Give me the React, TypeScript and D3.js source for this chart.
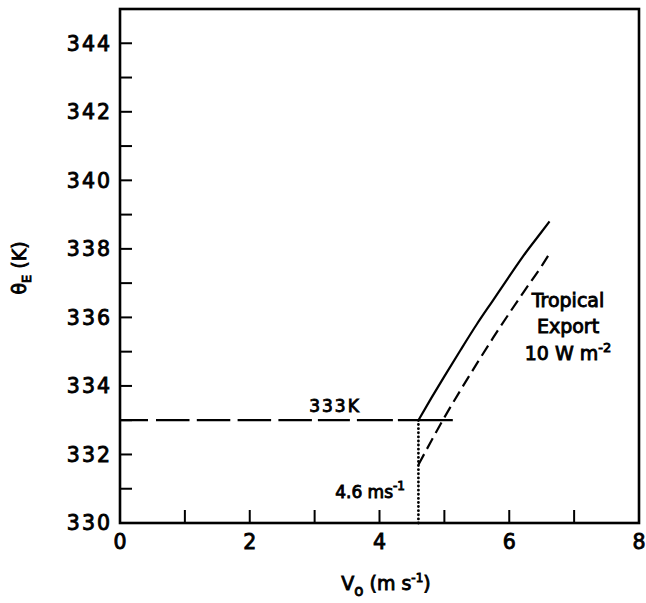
import React from "react";
import * as d3 from "d3";

// ---- data ----
const xMajorTicks = [0, 2, 4, 6, 8];
const xMinorTicks = [1, 2, 3, 4, 5, 6, 7];
const yMajorTicks = [330, 332, 334, 336, 338, 340, 342, 344];
const yMinorTicks = [331, 332, 333, 334, 335, 336, 337, 338, 339, 340, 341, 342, 343, 344];

const solidV = [4.6, 4.8, 5.0, 5.25, 5.5, 5.75, 6.0, 6.25, 6.5, 6.62];
const solidTheta = [333.0, 333.65, 334.28, 335.05, 335.8, 336.5, 337.2, 337.88, 338.5, 338.8];

const dashedV = [4.6, 4.8, 5.0, 5.25, 5.5, 5.75, 6.0, 6.25, 6.5, 6.6];
const dashedTheta = [331.7, 332.4, 333.08, 333.88, 334.65, 335.4, 336.12, 336.82, 337.5, 337.8];

const refTheta = 333;
const refVRange = [0, 5.13];
const criticalV = 4.6;

const W = 646;
const H = 603;
const FONT = "'DejaVu Sans', sans-serif";

const textStyle = { stroke: "#000", strokeWidth: 0.9 } as const;

export default function App() {
  const left = 120, right = 639, top = 9, bottom = 523;
  const x = d3.scaleLinear().domain([0, 8]).range([left, right]);
  const y = d3.scaleLinear().domain([330, 345]).range([bottom, top]);

  const line = d3
    .line<[number, number]>()
    .x((d) => x(d[0]))
    .y((d) => y(d[1]))
    .curve(d3.curveMonotoneX);

  const solidPts = solidV.map((v, i) => [v, solidTheta[i]] as [number, number]);
  const dashedPts = dashedV.map((v, i) => [v, dashedTheta[i]] as [number, number]);

  return (
    <svg
      width={W}
      height={H}
      style={{ position: "absolute", left: 0, top: 0, background: "#fff" }}
      fontFamily={FONT}
    >
      <rect x={0} y={0} width={W} height={H} fill="#fff" />
      {/* frame */}
      <rect
        x={left}
        y={top}
        width={right - left}
        height={bottom - top}
        fill="none"
        stroke="#000"
        strokeWidth={2.6}
      />
      {/* y ticks */}
      {yMinorTicks.map((t) => (
        <line key={"yt" + t} x1={left} x2={left + 12} y1={y(t)} y2={y(t)} stroke="#000" strokeWidth={2} />
      ))}
      {yMajorTicks.map((t) => (
        <text
          key={"yl" + t}
          x={left - 8}
          y={y(t)}
          dy="0.36em"
          textAnchor="end"
          fontSize={20.5}
          letterSpacing={2}
          style={textStyle}
        >
          {t}
        </text>
      ))}
      {/* x ticks */}
      {xMinorTicks.map((t) => (
        <line key={"xt" + t} x1={x(t)} x2={x(t)} y1={bottom} y2={bottom - 13} stroke="#000" strokeWidth={2} />
      ))}
      {xMajorTicks.map((t) => (
        <text key={"xl" + t} x={x(t)} y={549} textAnchor="middle" fontSize={20.5} style={textStyle}>
          {t}
        </text>
      ))}

      {/* reference 333 K line */}
      <line
        x1={x(refVRange[0])}
        x2={x(refVRange[1])}
        y1={y(refTheta)}
        y2={y(refTheta)}
        stroke="#000"
        strokeWidth={2.2}
        strokeDasharray="28,8,33.5,7.3,33.5,7.3,33.5,7.3,33.5,6,32,7,36,5,60"
      />
      {/* dotted vertical */}
      <line
        x1={x(criticalV)}
        x2={x(criticalV)}
        y1={y(330)}
        y2={y(refTheta)}
        stroke="#000"
        strokeWidth={2.8}
        strokeLinecap="round"
        strokeDasharray="0.1,4"
      />
      {/* curves */}
      <path d={line(solidPts) || ""} fill="none" stroke="#000" strokeWidth={2.2} />
      <path d={line(dashedPts) || ""} fill="none" stroke="#000" strokeWidth={2.2} strokeDasharray="12,6" />

      {/* annotations */}
      <text x={335} y={412} textAnchor="middle" fontSize={17} letterSpacing={2} style={textStyle}>
        333K
      </text>
      <text x={405} y={498} textAnchor="end" fontSize={17} style={textStyle}>
        4.6 ms
        <tspan dy={-8} fontSize={12}>
          -1
        </tspan>
      </text>
      <text textAnchor="middle" fontSize={19} style={textStyle}>
        <tspan x={568} y={307}>Tropical</tspan>
        <tspan x={568} y={333}>Export</tspan>
        <tspan x={568} y={360}>
          10 W m
          <tspan dy={-8} fontSize={13}>
            -2
          </tspan>
        </tspan>
      </text>

      {/* axis titles */}
      <text x={386} y={590} textAnchor="middle" fontSize={19} style={textStyle}>
        V
        <tspan dy={6} fontSize={15}>
          o
        </tspan>
        <tspan dy={-6}>{"  (m s"}</tspan>
        <tspan dy={-8} fontSize={12}>
          -1
        </tspan>
        <tspan dy={8}>)</tspan>
      </text>
      <text
        transform="translate(26,268) rotate(-90)"
        textAnchor="middle"
        fontSize={19}
        style={textStyle}
      >
        θ
        <tspan dy={5} fontSize={13}>
          E
        </tspan>
        <tspan dy={-5}>{"   (K)"}</tspan>
      </text>
    </svg>
  );
}
